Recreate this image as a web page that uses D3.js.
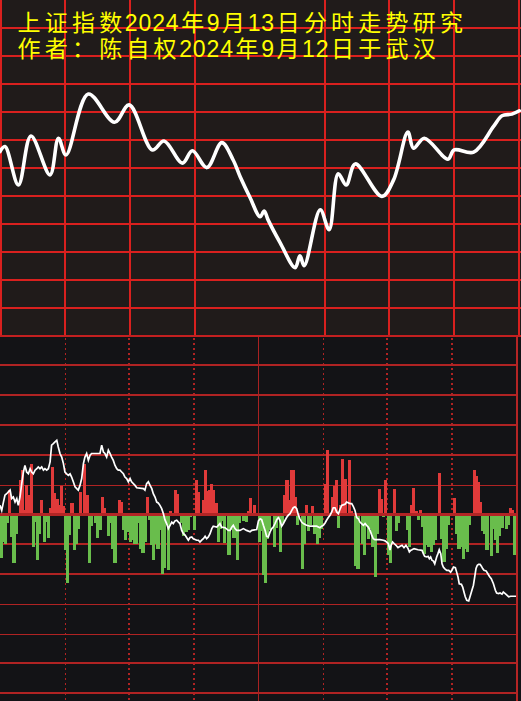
<!DOCTYPE html>
<html><head><meta charset="utf-8">
<script src="https://cdn.jsdelivr.net/npm/d3@7"></script>
<style>html,body{margin:0;padding:0;background:#131316;}svg{display:block;}</style>
</head><body><svg id="c" width="521" height="701"></svg>
<script>
// ---------- data ----------
const titleLines = ["上证指数2024年9月13日分时走势研究", "作者：陈自权2024年9月12日于武汉"];

// upper panel: forecast curve (minute of session, grid level)
const forecastTime = [0, 2.3, 8.5, 14.3, 23.1, 27.0, 30.5, 40.8, 52.9, 59.7, 70.4, 75.8, 84.3, 88.9, 95.6, 102.5, 107.7, 111.0, 115.6, 120.2, 122.1, 123.9, 129.5, 136.4, 138.6, 140.6, 148.0, 152.1, 156.3, 160.0, 164.2, 176.5, 181.9, 188.5, 191.1, 196.1, 207.0, 209.9, 218.9, 228.1, 232.0, 236.6, 240.0];
const forecastLevel = [6.58, 6.76, 5.39, 7.14, 5.75, 7.06, 6.46, 8.64, 7.63, 8.25, 6.64, 6.96, 6.17, 6.61, 6.01, 6.90, 6.29, 5.68, 4.93, 4.25, 4.46, 4.14, 3.32, 2.43, 2.86, 2.50, 4.50, 3.79, 5.79, 5.39, 6.14, 4.98, 5.57, 7.28, 6.70, 7.06, 6.31, 6.64, 6.56, 7.48, 7.86, 7.92, 8.04];

// lower panel: per-minute flow bars (minute 0..239)
const flowValues = [
 -1.47,-0.93,-0.98,-0.29,0.8,-0.75,-1.65,-0.67,0,1.14,
 1.5,0.15,1.0,0.64,1.7,-1.1,-0.26,-1.54,-0.65,0.47,
 -0.93,-0.26,-0.8,0.2,1.6,0.7,0.53,0.3,0.94,0.27,
 -1.2,-2.3,-0.7,0.38,-1.2,-0.98,-0.5,0.75,0,1.7,
 0.64,-1.63,-0.4,0,-0.3,-0.8,-0.54,0.58,0.2,0,
 -0.74,-0.3,-1.15,-1.63,0,0.47,0.41,-0.54,-0.87,-0.6,
 -0.93,-0.85,-1.0,-1.0,-0.3,-1.18,-1.3,-0.93,0.58,-0.18,
 -1.04,-1.54,-0.98,-1.18,-0.54,-2.0,-1.8,-0.37,-1.88,0.1,
 0,0.83,0.67,0,-0.3,-0.74,-0.6,-0.54,-0.1,0,
 -0.54,1.14,0.74,0,0.47,1.48,0.78,0.83,1.03,0.83,
 0.38,-0.93,-0.5,-0.22,-0.96,0,-1.38,-0.54,-0.78,-0.78,
 -1.54,-0.29,0,-0.22,-0.26,0.1,0.56,0,0.3,0,
 -0.93,-0.56,-2.05,-2.3,-0.82,-0.54,0,-1.1,-0.45,0,
 -1.26,-0.3,0.64,1.14,0.47,1.48,1.48,0.58,-0.37,0,
 -1.82,-0.98,0.3,-0.56,-0.37,0.27,-0.65,-0.98,-0.78,-0.48,
 0,1.03,2.15,0,0.58,0.94,1.14,-0.45,0.3,1.87,
 1.2,0,1.83,0.1,0,-1.74,-1.82,0,-0.98,-1.38,
 -0.37,-0.82,-0.48,-1.1,-2.1,-0.65,0.85,0.53,-0.1,1.14,
 -1.38,-1.65,0,0.85,-0.56,-0.3,-0.05,0,0,-0.54,
 -1.1,0.3,0.87,0.1,-0.2,0.15,-0.42,-1.34,-1.04,-1.1,
 -1.26,-1.04,-0.87,0,1.37,-0.82,-1.6,-1.18,-0.37,0,
 0,0.56,-0.65,-1.15,-1.1,-1.49,-1.15,-1.26,-0.37,0,
 1.5,1.3,1.1,0.41,-0.56,-0.67,-1.2,0,-1.4,-0.48,
 -0.87,-1.3,-0.74,-0.45,0,-0.48,-0.37,0.2,0.15,-1.38
];

// lower panel: thin white line (minute, grid level)
const avgTime = [0,0.8,1.6,2.3,3.1,3.9,4.7,5.4,6.2,7.0,7.8,8.5,9.3,10.1,10.9,11.6,12.4,13.2,14.0,14.7,15.5,16.3,17.1,17.8,18.6,19.4,20.2,20.9,21.7,22.5,23.3,24.0,24.8,25.6,26.4,27.1,27.9,28.7,29.5,30.2,31.0,31.8,32.6,33.3,34.1,34.9,35.7,36.4,37.2,38.0,38.8,39.5,40.3,41.1,41.9,42.6,45.0,46.5,47.3,48.1,48.8,49.6,50.4,51.2,51.9,52.7,53.5,54.3,55.0,55.8,56.6,57.4,58.1,58.9,59.7,
 60.5,61.2,62.8,63.6,66.7,67.4,68.2,69.0,69.8,70.6,71.3,72.1,72.9,73.6,74.4,75.2,76.0,76.7,77.5,78.3,79.1,79.9,80.6,81.4,82.2,83.0,83.7,84.5,85.3,86.1,86.8,87.6,88.4,89.2,89.9,91.5,92.3,93.0,93.8,94.6,95.4,96.1,96.9,97.7,98.5,99.2,100.8,101.6,102.3,103.1,104.7,106.2,107.0,107.8,108.5,109.3,110.1,111.6,113.2,114.7,116.3,117.1,119.4,120.2,
 121.0,121.7,122.5,123.3,124.0,124.8,125.6,126.4,127.1,127.9,128.7,129.5,130.2,131.0,131.8,132.6,133.3,134.1,134.9,135.7,136.4,137.2,138.0,138.8,139.5,140.3,141.1,142.6,144.2,145.7,147.3,148.8,149.6,150.4,151.2,151.9,152.7,153.5,154.3,155.0,155.8,156.6,157.4,158.1,158.9,160.5,161.2,162.8,163.6,164.3,165.1,165.9,166.7,167.4,168.2,169.0,169.8,170.5,171.3,172.1,172.9,173.6,174.4,176.7,178.3,179.1,179.8,180.6,
 181.4,181.9,182.6,183.3,184.2,185.1,186.1,187.0,187.9,188.8,189.8,190.4,191.0,191.6,192.6,194.4,196.3,196.9,197.5,198.5,199.1,199.7,200.3,200.9,201.6,202.2,203.1,203.7,204.3,205.0,205.6,206.2,206.8,207.8,208.7,209.6,210.2,210.9,211.8,212.4,213.0,213.6,214.6,215.2,215.8,216.4,217.1,218.0,218.6,219.5,220.2,220.8,221.4,222.0,222.6,223.3,223.9,224.5,225.1,226.1,226.7,227.6,228.5,229.5,230.4,231.0,231.9,232.6,233.5,234.1,235.0,235.9,236.6,237.5,240.0];
const avgLevel = [0.30,0.13,0.41,0.64,0.69,0.75,0.81,0.53,0.58,0.41,0.53,0.30,0.58,1.03,1.42,1.64,1.42,1.36,1.53,1.42,1.36,1.48,1.53,1.59,1.53,1.59,1.48,1.53,1.48,1.53,1.76,2.32,2.37,2.43,2.48,2.26,2.04,1.92,1.70,1.42,1.36,1.31,1.36,1.25,1.09,0.92,0.86,0.81,0.97,1.20,1.70,1.92,2.04,1.81,1.98,2.04,2.04,2.04,2.32,2.09,2.04,1.92,2.15,2.04,1.92,1.81,1.64,1.53,1.48,1.48,1.42,1.36,1.25,1.20,1.09,
 1.20,1.09,0.97,0.89,0.86,0.81,1.03,1.09,0.97,0.86,0.69,0.58,0.41,0.38,0.30,0.19,0.02,-0.18,-0.31,-0.48,-0.37,-0.26,-0.31,-0.22,-0.20,-0.26,-0.31,-0.54,-0.65,-0.70,-0.78,-0.87,-0.78,-0.76,-0.82,-0.87,-0.87,-0.93,-0.87,-0.82,-0.74,-0.82,-0.76,-0.65,-0.48,-0.40,-0.43,-0.37,-0.31,-0.43,-0.45,-0.54,-0.54,-0.43,-0.37,-0.48,-0.54,-0.54,-0.48,-0.54,-0.59,-0.54,-0.51,-0.22,
 -0.15,-0.18,-0.37,-0.54,-0.74,-0.76,-0.59,-0.48,-0.43,-0.31,-0.18,-0.11,-0.20,-0.40,-0.31,-0.20,-0.11,-0.03,0.02,0.13,0.22,0.25,0.19,-0.03,-0.15,-0.26,-0.31,-0.37,-0.40,-0.40,-0.40,-0.45,-0.40,-0.37,-0.29,-0.20,-0.11,-0.03,0.08,0.22,0.22,0.08,0.02,0.16,0.30,0.34,0.41,0.36,0.36,0.27,0.13,-0.11,-0.15,-0.26,-0.31,-0.37,-0.31,-0.37,-0.43,-0.54,-0.70,-0.82,-0.85,-0.85,-0.87,-0.89,-0.93,-0.98,
 -1.20,-1.04,-0.93,-0.98,-1.04,-1.12,-1.07,-1.04,-1.12,-1.04,-1.15,-1.26,-1.21,-1.19,-1.15,-1.19,-1.21,-1.32,-1.41,-1.43,-1.41,-1.49,-1.43,-1.54,-1.57,-1.66,-1.43,-1.32,-1.19,-1.32,-1.66,-1.77,-1.82,-1.88,-1.88,-1.94,-1.88,-1.77,-1.79,-1.94,-2.10,-2.33,-2.35,-2.44,-2.61,-2.77,-2.89,-2.91,-2.77,-2.55,-2.38,-2.10,-1.82,-1.71,-1.68,-1.68,-1.74,-1.82,-1.88,-1.90,-1.97,-2.08,-2.16,-2.33,-2.55,-2.64,-2.66,-2.64,-2.68,-2.61,-2.66,-2.72,-2.77,-2.75,-2.75];

const topGridLevels = [0,1,2,3,4,5,6,7,8,9,10,11];
const topTimeMarks = [30,60,90,150,180,210,240];
const bottomGridLevels = [5,4,3,2,1,-1,-2,-3,-4,-5,-6];
const bottomGridWidths = [1.5,2,2,2,1,2,2,1,1,2,2];
const dotMarks = [30,60,90,150,180,210];
const dotHeavy = [false,true,true,false,true,true];

// ---------- drawing ----------
const svg = d3.select('#c');
const W = 521, H = 701, SPLIT = 335.5;

const xT = d3.scaleLinear().domain([0,240]).range([0,519.3]);
const yT = d3.scaleLinear().domain([0,12]).range([335.7,0]);
const xB = d3.scaleLinear().domain([0,240]).range([0,516]);
const yB = d3.scaleLinear().domain([-6,6]).range([693.1,335.5]);

// backgrounds
svg.append('rect').attr('x',0).attr('y',0).attr('width',W).attr('height',SPLIT).attr('fill','#201b1a');
svg.append('rect').attr('x',0).attr('y',SPLIT).attr('width',W).attr('height',H-SPLIT).attr('fill','#131316');

// top grid
const tg = svg.append('g').attr('shape-rendering','crispEdges');
tg.selectAll('line.h').data(topGridLevels).join('line')
  .attr('x1',0).attr('x2',W).attr('y1',d=>Math.round(yT(d))).attr('y2',d=>Math.round(yT(d)))
  .attr('stroke','#d9201e').attr('stroke-width',2);
tg.selectAll('line.v').data(topTimeMarks).join('line')
  .attr('x1',d=>Math.round(xT(d))).attr('x2',d=>Math.round(xT(d))).attr('y1',0).attr('y2',SPLIT)
  .attr('stroke','#d9201e').attr('stroke-width',2);
tg.append('line').attr('x1',1).attr('x2',1).attr('y1',0).attr('y2',SPLIT)
  .attr('stroke','#d9201e').attr('stroke-width',2);

// top curve
svg.append('path')
  .datum(forecastTime.map((t,i)=>[t,forecastLevel[i]]))
  .attr('fill','none').attr('stroke','#ffffff').attr('stroke-width',3.6)
  .attr('stroke-linejoin','round').attr('stroke-linecap','round')
  .attr('d', d3.line().x(d=>xT(d[0])).y(d=>yT(d[1])).curve(d3.curveCatmullRom.alpha(0.5)));

// bottom grid
const bg = svg.append('g').attr('shape-rendering','crispEdges');
bg.selectAll('line.h').data(bottomGridLevels).join('line')
  .attr('x1',0).attr('x2',xB(240)).attr('y1',d=>Math.round(yB(d))).attr('y2',d=>Math.round(yB(d)))
  .attr('stroke','#b02323').attr('stroke-width',(d,i)=>bottomGridWidths[i]);
bg.selectAll('line.d').data(dotMarks).join('line')
  .attr('x1',d=>Math.round(xB(d))).attr('x2',d=>Math.round(xB(d))).attr('y1',SPLIT+2).attr('y2',H)
  .attr('stroke','#b02323').attr('stroke-width',(d,i)=>dotHeavy[i]?2:1)
  .attr('stroke-dasharray','2,3');
bg.append('line').attr('x1',Math.round(xB(120))).attr('x2',Math.round(xB(120))).attr('y1',SPLIT).attr('y2',H)
  .attr('stroke','#a82222').attr('stroke-width',1);
bg.append('line').attr('x1',xB(240)+1).attr('x2',xB(240)+1).attr('y1',SPLIT).attr('y2',H)
  .attr('stroke','#b52525').attr('stroke-width',2);
svg.append('line').attr('x1',0).attr('x2',W).attr('y1',SPLIT).attr('y2',SPLIT)
  .attr('stroke','#c42020').attr('stroke-width',2).attr('shape-rendering','crispEdges');

// bars
svg.append('g').attr('shape-rendering','crispEdges')
  .selectAll('rect').data(flowValues.map((v,i)=>({m:i,v})).filter(d=>Math.abs(d.v)>0.02)).join('rect')
  .attr('x',d=>Math.floor(xB(d.m)))
  .attr('width',d=>Math.ceil(xB(d.m+1))-Math.floor(xB(d.m)))
  .attr('y',d=>d.v>0?yB(d.v):yB(0))
  .attr('height',d=>Math.abs(yB(d.v)-yB(0)))
  .attr('fill',d=>d.v>0?'#e03a3a':'#69bd4c');

// zero line
svg.append('line').attr('x1',0).attr('x2',xB(240)).attr('y1',Math.round(yB(0))).attr('y2',Math.round(yB(0)))
  .attr('stroke','#b22525').attr('stroke-width',3).attr('shape-rendering','crispEdges');

// white line
svg.append('path')
  .datum(avgTime.map((t,i)=>[t,avgLevel[i]]))
  .attr('fill','none').attr('stroke','#ffffff').attr('stroke-width',1.7)
  .attr('d', d3.line().x(d=>xB(d[0])).y(d=>yB(d[1])));

// title
const CJK = 27.2, DIG = 13.7, baselines = [31, 57];
titleLines.forEach((s,i)=>{
  const t = svg.append('text').attr('y',baselines[i])
    .attr('font-family','"Liberation Sans", "Noto Sans CJK SC", sans-serif')
    .attr('font-size',23).attr('fill','#ffff00').attr('text-anchor','middle');
  let x = 15.5;
  for (const ch of s) {
    const w = /[0-9]/.test(ch) ? DIG : CJK;
    t.append('tspan').attr('x', x + w/2).text(ch);
    x += w;
  }
});
</script></body></html>
